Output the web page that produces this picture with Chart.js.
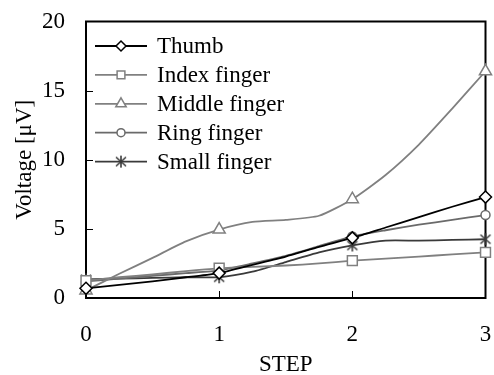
<!DOCTYPE html>
<html>
<head>
<meta charset="utf-8">
<script src="https://cdn.jsdelivr.net/npm/chart.js@4"></script>
<style>
  html, body { margin: 0; padding: 0; background: #fff; }
  #wrap { width: 494px; height: 375px; position: relative; }
</style>
</head>
<body>
<div id="wrap"><canvas id="c"></canvas></div>
<script>
// readings, quarter steps (markers only on whole steps)
const steps  = [0, 0.25, 0.5, 0.75, 1, 1.25, 1.5, 1.75, 2, 2.25, 2.5, 2.75, 3];
const thumb  = [0.7, 0.95, 1.2, 1.5, 1.8, 2.4, 3.0, 3.7, 4.35, 5.1, 5.85, 6.6, 7.3];
const index  = [1.25, 1.5, 1.7, 1.95, 2.15, 2.25, 2.35, 2.5, 2.7, 2.85, 3.0, 3.15, 3.3];
const middle = [0.55, 1.75, 2.9, 4.1, 4.95, 5.5, 5.65, 5.95, 7.15, 8.9, 11.1, 13.7, 16.4];
const ring   = [1.2, 1.4, 1.6, 1.8, 2.0, 2.5, 3.05, 3.75, 4.45, 4.9, 5.3, 5.65, 6.0];
const small  = [1.35, 1.4, 1.45, 1.5, 1.5, 1.9, 2.6, 3.3, 3.8, 4.15, 4.15, 4.2, 4.25];
const names  = ['Thumb', 'Index finger', 'Middle finger', 'Ring finger', 'Small finger'];
const yTicks = [0, 5, 10, 15, 20];
const xTicks = [0, 1, 2, 3];

const FONT = '"Liberation Serif", "Times New Roman", serif';

// excel style asterisk (6 arms)
function asterisk(color) {
    const c = document.createElement('canvas');
    c.width = 14; c.height = 14;
    const g = c.getContext('2d');
    g.strokeStyle = color; g.lineWidth = 1.6;
    g.beginPath();
    g.moveTo(7, 1); g.lineTo(7, 13);
    g.moveTo(2, 2.5); g.lineTo(12, 11.5);
    g.moveTo(12, 2.5); g.lineTo(2, 11.5);
    g.stroke();
    return c;
}

const pts = vals => vals.map((v, i) => ({ x: steps[i], y: v }));

function series(label, vals, color, style, r) {
    return {
        label, data: pts(vals),
        borderColor: color, borderWidth: 1.8,
        pointStyle: style,
        pointBorderColor: color, pointBackgroundColor: '#fff', pointBorderWidth: 1.5,
        pointRadius: ctx => (steps[ctx.dataIndex] % 1 === 0 ? r : 0),
        pointHoverRadius: 0,
        tension: 0.2, clip: false, fill: false
    };
}

const datasets = [
    series(names[0], thumb,  '#000000', 'rectRot', 6),
    series(names[1], index,  '#808080', 'rect', 7),
    series(names[2], middle, '#808080', 'triangle', 7),
    series(names[3], ring,   '#6a6a6a', 'circle', 4.5),
    series(names[4], small,  '#3a3a3a', asterisk('#3a3a3a'), 7)
];
const legendSizes = [5, 5.5, 6, 4, 6];

const frame = {
    id: 'frame',
    beforeDatasetsDraw(chart) {
        const { ctx, chartArea: a, scales } = chart;
        ctx.save();
        ctx.strokeStyle = '#000';
        ctx.lineWidth = 2;
        ctx.strokeRect(a.left, a.top, a.right - a.left, a.bottom - a.top);
        ctx.lineWidth = 1;
        ctx.beginPath();
        yTicks.slice(1, -1).forEach(v => {
            const y = Math.round(scales.y.getPixelForValue(v)) + 0.5;
            ctx.moveTo(a.left, y); ctx.lineTo(a.left + 7, y);
        });
        xTicks.slice(1, -1).forEach(v => {
            const x = Math.round(scales.x.getPixelForValue(v)) + 0.5;
            ctx.moveTo(x, a.bottom); ctx.lineTo(x, a.bottom - 7);
        });
        ctx.stroke();
        ctx.restore();
    },
    afterDraw(chart) {
        const { ctx } = chart;
        ctx.save();
        ctx.font = '23px ' + FONT;
        ctx.textBaseline = 'middle';
        chart.data.datasets.forEach((ds, i) => {
            const y = 46 + i * 28.9;
            ctx.strokeStyle = ds.borderColor;
            ctx.lineWidth = ds.borderWidth;
            ctx.beginPath(); ctx.moveTo(95, y); ctx.lineTo(147, y); ctx.stroke();
            ctx.fillStyle = '#fff';
            ctx.strokeStyle = ds.pointBorderColor;
            ctx.lineWidth = ds.pointBorderWidth;
            if (Chart.helpers && Chart.helpers.drawPoint) {
                Chart.helpers.drawPoint(ctx, { pointStyle: ds.pointStyle, radius: legendSizes[i], rotation: 0, borderWidth: ds.pointBorderWidth }, 121, y);
            }
            ctx.fillStyle = '#000';
            ctx.fillText(ds.label, 157, y + 1);
        });
        ctx.restore();
    }
};

new Chart(document.getElementById('c'), {
    type: 'line',
    data: { datasets },
    plugins: [frame],
    options: {
        responsive: true,
        maintainAspectRatio: false,
        animation: false,
        events: [],
        layout: { padding: { top: 21.5, right: 7.3, left: 0, bottom: 0 } },
        font: { family: FONT, size: 23 },
        plugins: { legend: { display: false }, tooltip: { enabled: false } },
        scales: {
            x: {
                type: 'linear', min: 0, max: 3,
                afterFit: s => { s.height = 77; s.paddingLeft = 0; s.paddingRight = 0; },
                grid: { display: false, drawTicks: false },
                border: { display: false },
                ticks: { stepSize: 1, padding: 23, color: '#000', font: { family: FONT, size: 23 }, maxRotation: 0 },
                title: { display: true, text: 'STEP', color: '#000', font: { family: FONT, size: 23, lineHeight: 0.85 }, padding: 0 }
            },
            y: {
                min: 0, max: 20,
                afterFit: s => { s.width = 86; s.paddingTop = 0; s.paddingBottom = 0; },
                grid: { display: false, drawTicks: false },
                border: { display: false },
                ticks: { stepSize: 5, padding: 21, color: '#000', font: { family: FONT, size: 23 } },
                title: { display: true, text: 'Voltage [μV]', color: '#000', font: { family: FONT, size: 23 }, padding: { top: 11, bottom: 0 } }
            }
        }
    }
});
</script>
</body>
</html>
